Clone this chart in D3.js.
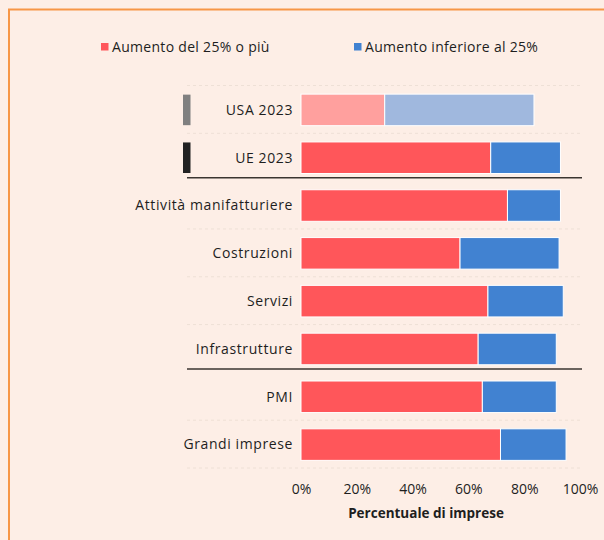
<!DOCTYPE html>
<html>
<head>
<meta charset="utf-8">
<script src="https://cdn.jsdelivr.net/npm/d3@7"></script>
<style>
  html, body { margin: 0; padding: 0; background: #fdeee6; }
  svg { display: block; font-family: "Open Sans", "Noto Sans", sans-serif; }
</style>
</head>
<body>
<script>
var width = 604,
    height = 540;

// data
var categories = ["USA 2023", "UE 2023", "Attività manifatturiere", "Costruzioni",
                  "Servizi", "Infrastrutture", "PMI", "Grandi imprese"];
var over25 = [30, 68, 74, 57, 67, 63.5, 65, 71.5];
var under25 = [53.5, 25, 19, 35.5, 27, 28, 26.5, 23.5];
var ticks = [0, 20, 40, 60, 80, 100];
var legendLabels = ["Aumento del 25% o più", "Aumento inferiore al 25%"];
var separators = [1, 5]; // solid line after these rows

var red = "#ff565a", blue = "#4182d1";
var redLight = "#ffa09e", blueLight = "#a0b8de";

var svg = d3.select("body").append("svg")
    .attr("width", width)
    .attr("height", height);

// orange frame (left + top)
svg.append("rect")
    .attr("x", 9).attr("y", 9.5)
    .attr("width", 700).attr("height", 700)
    .attr("fill", "#fdeee6")
    .attr("stroke", "#f79646")
    .attr("stroke-width", 2);

var x = d3.scaleLinear().domain([0, 100]).range([301, 580]);
var y = d3.scaleBand().domain(categories).range([86, 468.5]).paddingInner(0.34).paddingOuter(0.17);
var step = y.step();

// dashed grid between rows
var bounds = d3.range(categories.length + 1);
svg.append("g")
  .selectAll("line")
  .data(bounds.filter(i => separators.indexOf(i - 1) < 0))
  .join("line")
    .attr("x1", 187).attr("x2", 580)
    .attr("y1", i => 86 + i * step - 0.5)
    .attr("y2", i => 86 + i * step - 0.5)
    .attr("stroke", "#eee0d6")
    .attr("stroke-dasharray", "3,3")
    .attr("stroke-width", 1);

// solid separators
svg.append("g")
  .selectAll("line")
  .data(separators)
  .join("line")
    .attr("x1", 187).attr("x2", 582)
    .attr("y1", i => 86 + (i + 1) * step - 4)
    .attr("y2", i => 86 + (i + 1) * step - 4)
    .attr("stroke", "#3a3530")
    .attr("stroke-width", 1.5);

var rows = categories.map((c, i) => ({cat: c, a: over25[i], b: under25[i], i: i}));

var bars = svg.append("g")
  .selectAll("g")
  .data(rows)
  .join("g");

bars.append("rect")
    .attr("x", x(0))
    .attr("y", d => y(d.cat))
    .attr("width", d => x(d.a) - x(0))
    .attr("height", y.bandwidth())
    .attr("fill", d => d.i == 0 ? redLight : red)
    .attr("stroke", "#fff")
    .attr("stroke-width", 1);

bars.append("rect")
    .attr("x", d => x(d.a))
    .attr("y", d => y(d.cat))
    .attr("width", d => x(d.a + d.b) - x(d.a))
    .attr("height", y.bandwidth())
    .attr("fill", d => d.i == 0 ? blueLight : blue)
    .attr("stroke", "#fff")
    .attr("stroke-width", 1);

// category labels
bars.append("text")
    .attr("x", 293)
    .attr("y", d => y(d.cat) + y.bandwidth() / 2)
    .attr("dy", "0.35em")
    .attr("text-anchor", "end")
    .attr("font-size", 14)
    .attr("letter-spacing", 0.6)
    .attr("fill", "#1e1e1e")
    .text(d => d.cat);

// markers for USA / UE
svg.append("g")
  .selectAll("rect")
  .data(["#808080", "#222"])
  .join("rect")
    .attr("x", 183)
    .attr("y", (c, i) => y(categories[i]) + 0.5)
    .attr("width", 7.5)
    .attr("height", y.bandwidth() - 1)
    .attr("fill", c => c);

// x axis labels
var axis = svg.append("g")
    .attr("transform", "translate(0,484)")
    .call(d3.axisBottom(x).tickValues(ticks).tickFormat(d => d + "%").tickSize(0).tickPadding(0));
axis.select(".domain").remove();
axis.selectAll("text")
    .attr("font-size", 14)
    .attr("font-family", "'Open Sans', sans-serif")
    .attr("fill", "#1e1e1e");

svg.append("text")
    .attr("x", 426)
    .attr("y", 518)
    .attr("text-anchor", "middle")
    .attr("font-size", 13.5)
    .attr("font-weight", "bold")
    .attr("fill", "#1e1e1e")
    .text("Percentuale di imprese");

// legend
var legend = svg.append("g")
  .selectAll("g")
  .data(legendLabels)
  .join("g")
    .attr("transform", (d, i) => "translate(" + (i == 0 ? 101 : 354) + ",43)");

legend.append("rect")
    .attr("width", 7.5).attr("height", 7.5)
    .attr("fill", (d, i) => i == 0 ? red : blue);

legend.append("text")
    .attr("x", 11)
    .attr("y", 4)
    .attr("dy", "0.35em")
    .attr("font-size", 14)
    .attr("letter-spacing", 0.3)
    .attr("fill", "#1e1e1e")
    .text(d => d);
</script>
</body>
</html>
